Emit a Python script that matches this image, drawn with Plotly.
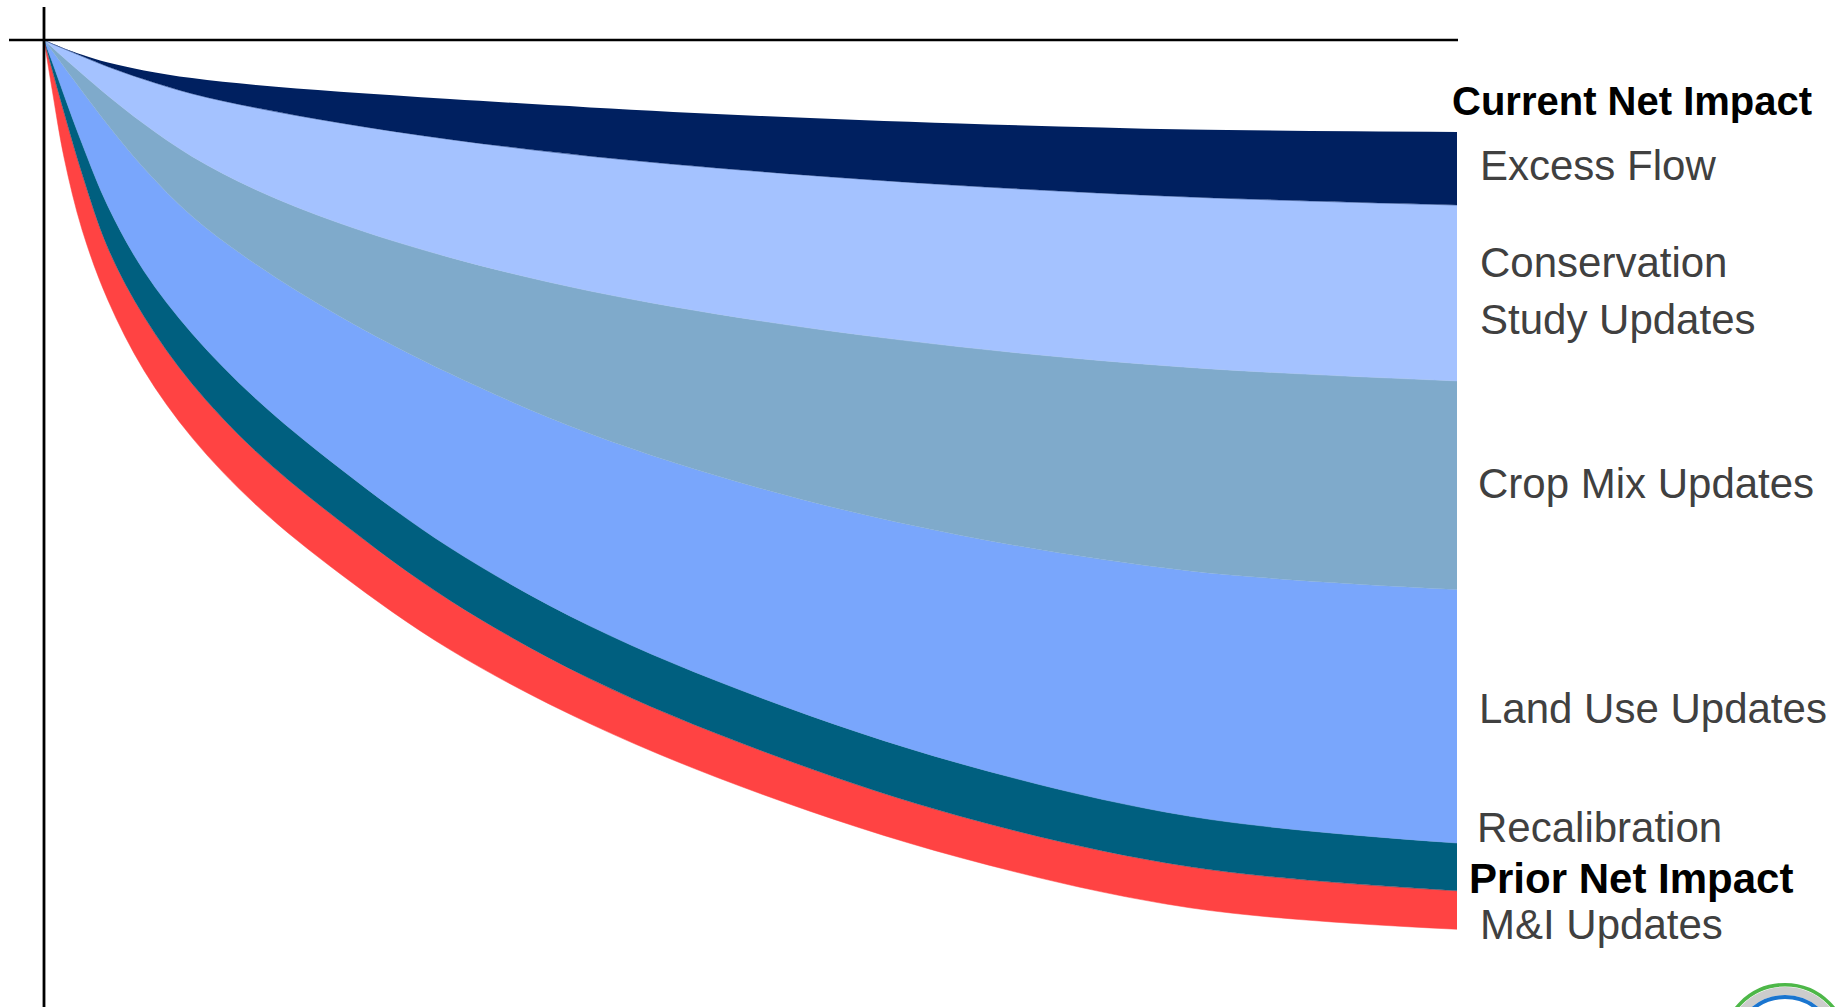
import plotly.graph_objects as go

# Time axis (arbitrary years from start of the analysis period)
years = [0, 0.23, 0.57, 1.08, 1.81, 2.83, 4.19, 6.0, 8.38, 11.49, 15.46, 20.27, 25.93, 32.44, 40.0]

# Current net impact (top of stack), and each component's contribution (negative = impact)
current_net_impact = [0, -0.36, -0.84, -1.47, -2.25, -3.04, -3.81, -4.51, -5.18, -5.90, -6.74, -7.59, -8.35, -8.95, -9.19]
excess_flow = [0, -0.02, -0.04, -0.16, -0.42, -0.89, -1.56, -2.27, -3.11, -4.04, -4.88, -5.56, -6.20, -6.75, -7.31]
conservation_study = [0, -0.34, -0.92, -1.75, -2.90, -4.45, -6.27, -8.19, -10.04, -11.80, -13.48, -14.93, -16.13, -17.05, -17.59]
crop_mix = [0, -0.36, -0.90, -1.75, -2.94, -4.45, -5.99, -7.46, -9.31, -11.62, -14.28, -16.74, -18.84, -20.34, -20.87]
land_use = [0, -1.08, -2.82, -5.25, -8.11, -10.27, -11.71, -13.44, -15.20, -17.40, -19.22, -20.92, -22.82, -24.54, -25.34]
recalibration = [0, -0.80, -1.76, -3.02, -4.19, -4.55, -5.03, -5.28, -5.28, -5.28, -5.28, -5.28, -5.28, -5.05, -4.78]
mi_updates = [0, -2.00, -4.52, -5.60, -5.21, -5.39, -5.39, -5.33, -5.25, -4.92, -4.50, -4.33, -4.13, -4.10, -3.85]

layers = [
    ("Excess Flow", excess_flow, "#002060"),
    ("Conservation Study Updates", conservation_study, "#a4c2ff"),
    ("Crop Mix Updates", crop_mix, "#7faacb"),
    ("Land Use Updates", land_use, "#79a6fc"),
    ("Recalibration", recalibration, "#005f7f"),
    ("M&I Updates", mi_updates, "#ff4343"),
]

fig = go.Figure()
fig.add_trace(go.Scatter(
    x=years, y=current_net_impact, name="Current Net Impact",
    stackgroup="impact", mode="lines",
    line=dict(width=0.5, shape="spline", smoothing=1.0, color="rgba(0,0,0,0)", simplify=False),
    fillcolor="rgba(0,0,0,0)", showlegend=False, hoverinfo="skip",
))
for name, vals, color in layers:
    fig.add_trace(go.Scatter(
        x=years, y=vals, name=name, stackgroup="impact", mode="lines",
        line=dict(width=0.5, shape="spline", smoothing=1.0, color=color, simplify=False),
        fillcolor=color, showlegend=False,
    ))

# plot area geometry (pixels): left 9, right 1458, top 7, bottom 1007
PX_L, PX_R, PX_T, PX_B = 9, 1458, 7, 1007
W, H = 1839, 1007


def px(xp):
    return (xp - PX_L) / (PX_R - PX_L)


def py(yp):
    return (PX_B - yp) / (PX_B - PX_T)


labels = [
    ("Current Net Impact", 1450, 101, 40, "#000000", True),
    ("Excess Flow", 1478, 165, 42, "#404040", False),
    ("Conservation", 1478, 262, 42, "#404040", False),
    ("Study Updates", 1478, 320, 42, "#404040", False),
    ("Crop Mix Updates", 1476, 483, 42, "#404040", False),
    ("Land Use Updates", 1477, 708, 42, "#404040", False),
    ("Recalibration", 1475, 827, 42, "#404040", False),
    ("Prior Net Impact", 1467, 878, 42, "#000000", True),
    ("M&I Updates", 1478, 924, 42, "#404040", False),
]
annotations = []
for text, xp, yp, size, color, bold in labels:
    annotations.append(dict(
        text=f"<b>{text}</b>" if bold else text,
        xref="paper", yref="paper", x=px(xp), y=py(yp),
        xanchor="left", yanchor="middle", showarrow=False,
        font=dict(family="Liberation Sans, Arial, sans-serif", size=size, color=color),
    ))

shapes = [
    # horizontal zero line
    dict(type="line", xref="paper", yref="y", x0=0, x1=1, y0=0, y1=0,
         line=dict(color="#000000", width=2.5)),
    # vertical axis
    dict(type="line", xref="x", yref="paper", x0=0, x1=0, y0=0, y1=1,
         line=dict(color="#000000", width=2.8)),
]
# partial logo rings at bottom right
cx, cy = 1785, 1047
for r, wdt, col in [(62.3, 3.5, "#4db748"), (56, 8, "#cccccc"), (50, 4, "#1a75cf")]:
    shapes.append(dict(type="circle", xref="paper", yref="paper",
                       x0=px(cx - r), x1=px(cx + r), y0=py(cy + r), y1=py(cy - r),
                       line=dict(color=col, width=wdt), fillcolor="rgba(0,0,0,0)", layer="above"))

x_per_px = 40.0 / (1457 - 44)
fig.update_layout(
    width=W, height=H,
    margin=dict(l=PX_L, r=W - PX_R, t=PX_T, b=H - PX_B, pad=0),
    paper_bgcolor="white", plot_bgcolor="white",
    xaxis=dict(range=[-(44 - PX_L) * x_per_px, (PX_R - 44) * x_per_px],
               showgrid=False, zeroline=False, showticklabels=False, showline=False, fixedrange=True),
    yaxis=dict(range=[-(PX_B - 40) / 10, (40 - PX_T) / 10],
               showgrid=False, zeroline=False, showticklabels=False, showline=False, fixedrange=True),
    annotations=annotations, shapes=shapes, showlegend=False,
)
fig.write_html("out.html")
